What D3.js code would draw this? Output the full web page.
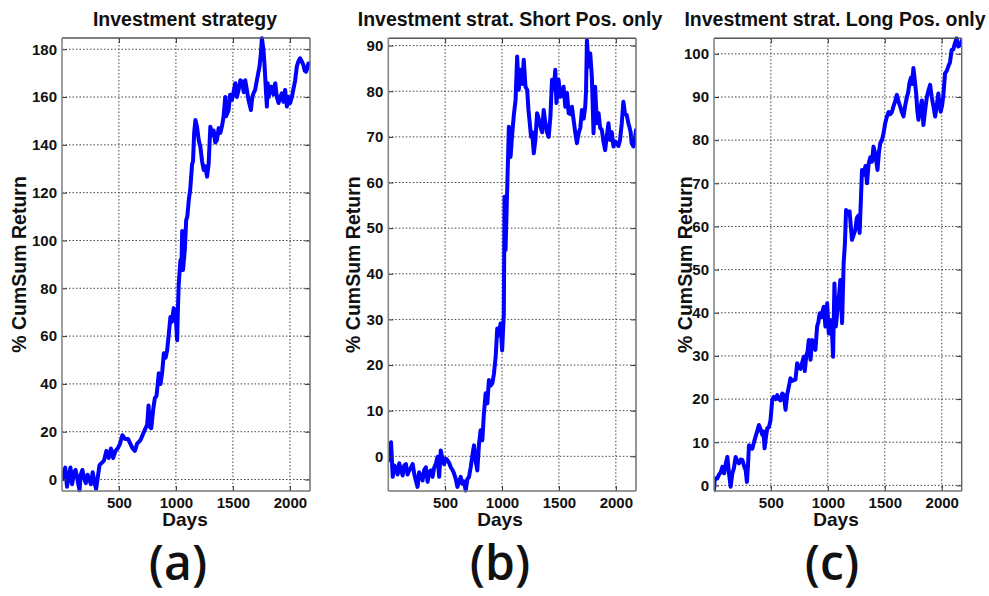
<!DOCTYPE html>
<html><head><meta charset="utf-8">
<script src="https://cdn.jsdelivr.net/npm/d3@7"></script>
<style>body{margin:0;background:#fff} svg{display:block}</style>
</head><body><svg id="chart" width="989" height="596"></svg>
<script>
// ---------- data ----------
const daysA = [1,15,30,45,60,75,90,105,120,140,155,165,180,195,210,225,240,255,270,285,300,315,330,350,370,390,410,430,450,470,490,510,530,555,580,600,620,640,660,690,720,748,760,772,784,800,815,830,850,865,880,894,910,923,940,952,965,981,996,1011,1018,1025,1040,1048,1055,1062,1078,1090,1100,1113,1125,1142,1150,1160,1171,1185,1200,1215,1230,1244,1258,1273,1287,1302,1316,1331,1345,1360,1375,1389,1405,1418,1433,1440,1462,1475,1492,1505,1521,1535,1550,1565,1579,1595,1608,1622,1637,1658,1670,1681,1695,1710,1722,1733,1745,1754,1768,1775,1783,1790,1798,1805,1815,1826,1842,1856,1871,1885,1900,1915,1929,1943,1958,1973,1988,2002,2017,2031,2046,2060,2075,2089,2103,2118,2130,2141,2152,2161,2176];
const returnA = [0,3,5,-3,1,5,-2,3,4,-1,-4.5,2,4,0.5,-1.5,2,0,-2,3,-1,-4,1,6,7,8,12,9,13,9,12,13,15,18.5,17,17,15,13,12,15,16.5,20,23,31,22,21.5,29,34,35,44.5,40,45,52.8,51,54,62,68,66,71.7,70,58.3,72,82,91.8,88,104,87.6,96,108.5,110,117,121,132,133,145,150.4,147.6,142,139,133,129.5,131,126.7,132,147.6,144,146,141,142,147,145,148,151.8,160,152,154.6,161,158.8,162,165.8,160,163,167,166.5,162,167,163,158.8,154.6,160,161.6,163,167,170,172.7,178,184.6,179.7,175,168.5,162,156,165.8,160,164.3,164.3,161,165.8,160,157.5,160,161.6,158,163,156,160,157.5,160,163.4,167,172.7,175,176.2,175,173.4,171,170.6,172,174,174];

const daysB = [1,10,25,40,55,69,83,97,112,127,141,156,170,185,200,215,230,243,258,272,287,302,316,331,346,360,375,390,404,420,434,448,462,476,491,506,521,536,550,565,579,594,608,622,637,651,666,681,696,710,725,740,754,768,783,798,812,827,841,856,871,885,900,915,929,944,958,972,987,1001,1016,1022,1031,1046,1060,1075,1090,1104,1119,1133,1147,1162,1177,1191,1206,1221,1232,1244,1255,1265,1279,1293,1308,1322,1337,1352,1366,1381,1395,1410,1425,1439,1454,1468,1478,1497,1512,1527,1541,1556,1571,1585,1600,1614,1629,1643,1658,1673,1688,1702,1717,1731,1738,1746,1760,1775,1789,1804,1818,1833,1848,1862,1877,1891,1906,1920,1935,1950,1964,1979,1994,2008,2023,2037,2052,2066,2081,2095,2110,2118,2130,2139,2154,2166,2177];
const returnB = [-0.9,1,3.1,-4.5,-2,-2.6,-4,-1.5,-3,-4.2,-2,-1.7,-4,-3.1,-2.5,-1.7,-4,-5.3,-6.7,-3.5,-4.5,-5.3,-3,-2.4,-5.6,-3.5,-3.1,-4.5,-2.5,-1.5,-0.1,-4.5,1.3,-0.5,-1.7,-0.5,-0.9,-1.5,-2.4,-3,-3.8,-5,-6.7,-5.5,-4.5,-6,-5.5,-7.5,-5,-4.5,-2.4,0.2,2.4,-1,-3.1,2.7,5.7,3.5,9.4,13.8,11.6,16.7,15.5,16,18.1,21.8,28,26.5,29.1,23.2,31.3,56.9,45.2,59,72.2,65.6,70.8,74.8,78.1,87.6,80.3,84.7,81.6,86.9,81,80.3,76,73,70,71,66.4,69.3,75.2,74,72.3,71,75.9,73,71,70,74.4,82.5,80.3,84.7,77.4,82.5,78.8,79,81,76.6,79.6,75.2,75,76.6,73.7,71,68.6,70.8,72,75.9,74,76.6,80,91.2,85.4,88.3,83.2,70.8,81,73,75.2,72,71.5,69,67.1,70,73,69.3,71,67.9,69,68.6,68,69.3,73,77.7,75,74.8,73,72.3,71,68.6,67.9,69,71.5];

const daysC = [1,8,30,45,60,75,90,104,118,132,147,162,176,191,205,220,235,250,265,279,290,300,308,322,337,352,366,380,395,410,425,435,445,456,468,483,497,512,526,541,556,570,585,600,614,629,643,658,672,686,701,716,731,745,760,775,789,798,811,822,833,848,862,876,891,906,918,929,945,955,964,979,994,1008,1022,1034,1046,1058,1070,1082,1095,1110,1125,1139,1150,1160,1175,1191,1202,1212,1226,1241,1255,1268,1279,1290,1300,1315,1330,1344,1358,1372,1387,1401,1415,1426,1436,1448,1460,1475,1489,1504,1519,1534,1548,1562,1576,1591,1606,1620,1635,1650,1664,1679,1694,1705,1716,1730,1740,1751,1763,1775,1785,1795,1810,1825,1839,1854,1869,1883,1898,1912,1927,1942,1956,1970,1981,1991,2003,2014,2029,2043,2058,2072,2087,2101,2116,2130,2145,2160,2175];
const returnC = [-1.1,1.6,1.6,2.5,3,4.3,2.8,5,6.6,3,-0.3,2.8,4,6.6,5.5,5.1,6,5.9,4.5,3.5,0.8,5,9.3,9,8.5,10,11.3,12.5,14,13,11.7,12.5,8.6,11,13.2,13.5,15.1,19.8,20.5,20,20.9,20,19.7,21.3,20.9,17.5,21,22.9,24.8,24.2,24.4,24.5,28.3,27.5,27,28.5,29.8,26.5,30,31,33.7,29.1,33.7,32,31.4,36.8,38,39.9,39,40.5,41.4,36.8,42.2,35.2,38.3,37,29.8,46.8,36.8,40,43,47.6,37.6,51.5,56,63.8,63,63.5,60,56.9,58,59.2,62,62.5,58.5,66,73.1,72,74,70,74.5,76,75,78.5,77,75,73.1,77,79.3,80,81.6,84,85.5,86.5,86,86.5,87.8,89,90.5,89,87.8,86.5,85.5,88,90,91,93.2,94.5,93,96.7,94,90.9,87,84.7,87,89.2,83.5,87,90,91.5,92.8,90,87.8,85.5,88,90.8,88,86.6,88,90.4,95.5,96,97.1,98,100.9,101,102.5,103.6,101.7,102,103];

const xTicks = [500, 1000, 1500, 2000];
const yTicksA = [0, 20, 40, 60, 80, 100, 120, 140, 160, 180];
const yTicksB = [0, 10, 20, 30, 40, 50, 60, 70, 80, 90];
const yTicksC = [0, 10, 20, 30, 40, 50, 60, 70, 80, 90, 100];
const titles = ["Investment strategy", "Investment strat. Short Pos. only", "Investment strat. Long Pos. only"];
const panelLabels = ["(a)", "(b)", "(c)"];
const xLabel = "Days";
const yLabel = "% CumSum Return";

// ---------- drawing ----------
const svg = d3.select("#chart");
const FONT = "'Liberation Sans', Arial, Helvetica, sans-serif";

const panels = [
  {days: daysA, values: returnA, yTicks: yTicksA, xDomain: [1, 2176], yDomain: [-4.8, 184.7],
   left: 62, right: 310, top: 38, bottom: 491, titleX: 185, daysX: 185, ylabX: 19, labelX: 178},
  {days: daysB, values: returnB, yTicks: yTicksB, xDomain: [1, 2177], yDomain: [-7.6, 91.6],
   left: 388.3, right: 636, top: 38.3, bottom: 491, titleX: 510, daysX: 500, ylabX: 353, labelX: 500},
  {days: daysC, values: returnC, yTicks: yTicksC, xDomain: [1, 2175], yDomain: [-1.3, 103.6],
   left: 714, right: 961.7, top: 38.3, bottom: 491, titleX: 835, daysX: 836, ylabX: 685, labelX: 832}
];

panels.forEach((p, i) => {
  const g = svg.append("g");
  const x = d3.scaleLinear().domain(p.xDomain).range([p.left, p.right]);
  const y = d3.scaleLinear().domain(p.yDomain).range([p.bottom, p.top]);

  // grid
  g.append("g").selectAll("line").data(p.yTicks).join("line")
    .attr("x1", p.left).attr("x2", p.right)
    .attr("y1", d => y(d)).attr("y2", d => y(d))
    .attr("stroke", "#444").attr("stroke-width", 1).attr("stroke-dasharray", "1.5,2");
  g.append("g").selectAll("line").data(xTicks).join("line")
    .attr("y1", p.top).attr("y2", p.bottom)
    .attr("x1", d => x(d)).attr("x2", d => x(d))
    .attr("stroke", "#444").attr("stroke-width", 1).attr("stroke-dasharray", "1.5,2");

  // line
  const clipId = "clip" + i;
  svg.append("clipPath").attr("id", clipId).append("rect")
    .attr("x", p.left).attr("y", p.top - 2).attr("width", p.right - p.left).attr("height", p.bottom - p.top + 4);
  const data = p.days.map((d, k) => [d, p.values[k]]);
  g.append("path").datum(data)
    .attr("clip-path", `url(#${clipId})`)
    .attr("fill", "none").attr("stroke", "#0000ff").attr("stroke-width", 4)
    .attr("stroke-linejoin", "round").attr("stroke-linecap", "round")
    .attr("d", d3.line().x(d => x(d[0])).y(d => y(d[1])));

  // axes
  const styleAxis = sel => {
    sel.select(".domain").remove();
    sel.selectAll(".tick line").attr("stroke", "#333");
    sel.selectAll(".tick text").attr("font-family", FONT).attr("font-size", 15)
      .attr("font-weight", "bold").attr("fill", "#111");
  };
  g.append("g").attr("transform", `translate(${p.left},0)`)
    .call(d3.axisLeft(y).tickValues(p.yTicks).tickSize(-5).tickPadding(5).tickFormat(d3.format("d")))
    .call(styleAxis);
  g.append("g").attr("transform", `translate(${p.right},0)`)
    .call(d3.axisRight(y).tickValues(p.yTicks).tickSize(-5).tickFormat(""))
    .call(styleAxis);
  g.append("g").attr("transform", `translate(0,${p.bottom})`)
    .call(d3.axisBottom(x).tickValues(xTicks).tickSize(-5).tickPadding(6).tickFormat(d3.format("d")))
    .call(styleAxis);
  g.append("g").attr("transform", `translate(0,${p.top})`)
    .call(d3.axisTop(x).tickValues(xTicks).tickSize(-5).tickFormat(""))
    .call(styleAxis);

  // box
  g.append("line").attr("x1", p.left).attr("x2", p.right).attr("y1", p.top).attr("y2", p.top).attr("stroke", "#555").attr("stroke-width", 1.4);
  g.append("line").attr("x1", p.right).attr("x2", p.right).attr("y1", p.top).attr("y2", p.bottom).attr("stroke", "#666").attr("stroke-width", 1.4);
  g.append("line").attr("x1", p.left).attr("x2", p.left).attr("y1", p.top).attr("y2", p.bottom).attr("stroke", "#888").attr("stroke-width", 1.6);
  g.append("line").attr("x1", p.left).attr("x2", p.right).attr("y1", p.bottom).attr("y2", p.bottom).attr("stroke", "#777").attr("stroke-width", 1.6);

  // texts
  g.append("text").attr("x", p.titleX).attr("y", 26).attr("text-anchor", "middle")
    .attr("font-family", FONT).attr("font-weight", "bold").attr("font-size", 19.5).attr("fill", "#111")
    .text(titles[i]);
  g.append("text").attr("x", p.daysX).attr("y", 526).attr("text-anchor", "middle")
    .attr("font-family", FONT).attr("font-weight", "bold").attr("font-size", 19).attr("fill", "#111")
    .text(xLabel);
  const yc = (p.top + p.bottom) / 2;
  g.append("text").attr("transform", `translate(${p.ylabX + 7},${yc}) rotate(-90)`).attr("text-anchor", "middle")
    .attr("font-family", FONT).attr("font-weight", "bold").attr("font-size", 19.5).attr("fill", "#111")
    .text(yLabel);
  g.append("text").attr("x", p.labelX).attr("y", 580).attr("text-anchor", "middle")
    .attr("font-family", "'Open Sans', 'Noto Sans', sans-serif").attr("font-weight", 600).attr("font-size", 48).attr("fill", "#111")
    .text(panelLabels[i]);
});
</script></body></html>
